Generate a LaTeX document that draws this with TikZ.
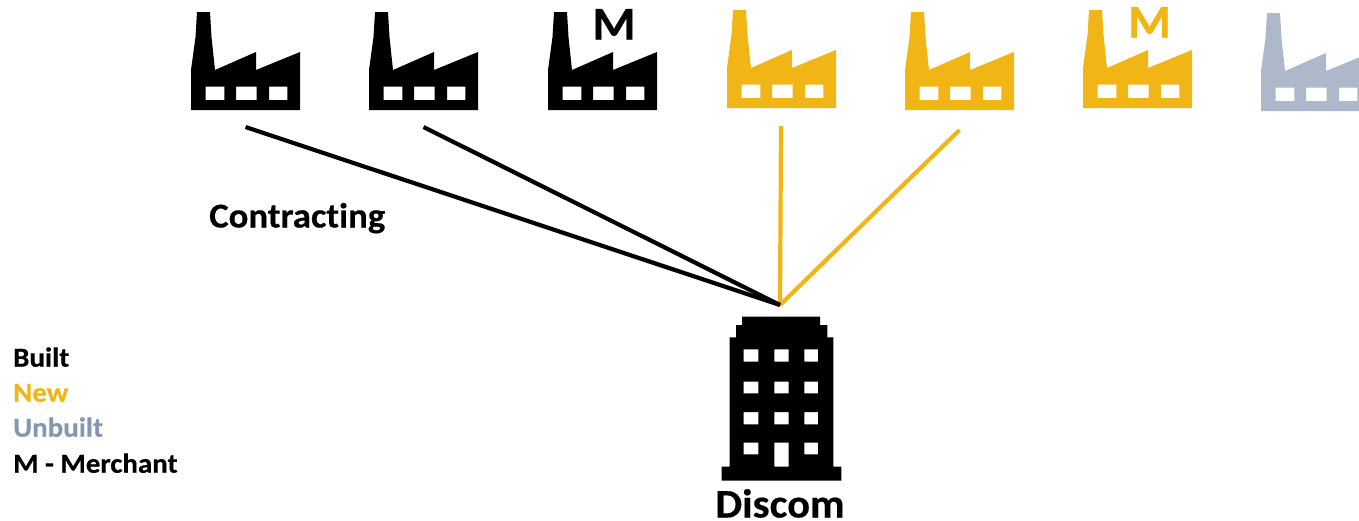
\documentclass[tikz,border=0pt]{standalone}
\usepackage{fontspec}
\setmainfont{Carlito}[RawFeature={-liga},FakeStretch=1.05,BoldFeatures={FakeBold=0.4}]
\definecolor{built}{RGB}{0,0,0}
\definecolor{newc}{RGB}{242,181,22}
\definecolor{unbuilt}{RGB}{173,184,202}
\definecolor{unbuilttext}{RGB}{132,151,176}
\tikzset{
  plantpic/.pic={
    \fill[even odd rule] (6,-98) -- (19,-98) -- (20.5,-73) -- (24,-40) -- (65,-58) -- (65,-40) -- (109,-58) -- (109,0) -- (0,0) -- (0,-40) -- (4.5,-73) -- cycle
      (14.7,-10) rectangle (33.3,-23.3)
      (45,-10) rectangle (65.7,-23.3)
      (78,-10) rectangle (96.3,-23.3);
  },
  plantnode/.style={inner sep=0pt,minimum width=109pt,minimum height=115pt,anchor=south},
  wire/.style={line width=4.2pt},
  legend/.style={font=\bfseries\fontsize{27.6}{27.6}\selectfont,anchor=base west,inner sep=0pt},
  mark label/.style={font=\bfseries\fontsize{47}{47}\selectfont,anchor=base,inner sep=0pt}
}
\begin{document}
\begin{tikzpicture}[x=1pt,y=-1pt]
\useasboundingbox (0,0) rectangle (1359,520);
\clip (0,0) rectangle (1359,520);
% invisible anchors: south edge is where a contract line starts
\node[plantnode] (p1) at (245.5,127) {};
\node[plantnode] (p2) at (423.5,127) {};
\node[plantnode] (p4) at (781,126) {};
\node[plantnode] (p5) at (959.5,130) {};
\node[inner sep=0pt,minimum width=120pt,minimum height=176pt,anchor=north] (discom) at (780,305) {};

\pic[built] at (191,110) {plantpic};
\pic[built] at (369,110) {plantpic};
\pic[built] at (548,110) {plantpic};
\pic[newc] at (727,108) {plantpic};
\pic[newc] at (905,110) {plantpic};
\pic[newc] at (1083,108) {plantpic};
\pic[unbuilt] at (1261,111) {plantpic};

\node[mark label,text=built] (m1) at (614,39.5) {M};
\node[mark label,text=newc] (m2) at (1149.5,37.5) {M};

\draw[wire,newc] (p4.south) -- (discom.north);
\draw[wire,newc] (p5.south) -- (discom.north);
\draw[wire,black] (p1.south) -- (discom.north);
\draw[wire,black] (p2.south) -- (discom.north);

\fill[even odd rule,black] (742,316.7) -- (820,316.7) -- (820,325) -- (827.3,325) -- (827.3,337.3) -- (833.3,337.3) -- (833.3,466.7) -- (841.3,466.7) -- (841.3,480.7) -- (721.7,480.7) -- (721.7,466.7) -- (729.7,466.7) -- (729.7,337.3) -- (736,337.3) -- (736,325) -- (742,325) -- cycle
 (743.7,349.3) rectangle (758.3,361.7) (774.3,349.3) rectangle (788.7,361.7) (804.3,349.3) rectangle (818,361.7)
 (743.7,381.7) rectangle (758.3,393.3) (774.3,381.7) rectangle (788.7,393.3) (804.3,381.7) rectangle (818,393.3)
 (743.7,412) rectangle (758.3,424.3) (774.3,412) rectangle (788.7,424.3) (804.3,412) rectangle (818,424.3)
 (743.7,442.7) rectangle (758.3,454.3) (774.3,442.7) rectangle (788.7,466.7) (804.3,442.7) rectangle (818,454.3);

\node[font=\bfseries\fontsize{40.5}{40.5}\selectfont,anchor=base,inner sep=0pt] (dl) at (780,517.5) {Discom};
\node[font=\bfseries\fontsize{35}{35}\selectfont,anchor=base west,inner sep=0pt] (cl) at (209,227.5) {Contracting};
\node[legend,text=built] (l1) at (13,366.7) {Built};
\node[legend,text=newc] (l2) at (13,401.7) {New};
\node[legend,text=unbuilttext] (l3) at (13,436.7) {Unbuilt};
\node[legend,text=built] (l4) at (13,472.7) {M - Merchant};
\end{tikzpicture}
\end{document}
